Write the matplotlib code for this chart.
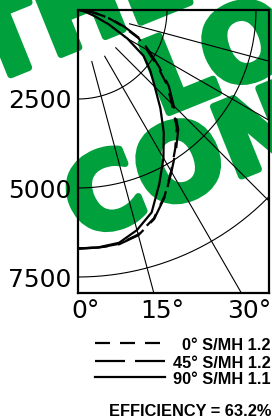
import numpy as np
import matplotlib
matplotlib.use('Agg')
import matplotlib.pyplot as plt
import matplotlib.transforms as mtransforms
import matplotlib.patheffects as pe
from matplotlib.lines import Line2D

# candela values, vertical angle 0..90 deg
ANGLES = [0, 5, 10, 15, 20, 25, 30, 35, 40, 45, 50, 55, 60, 65, 70, 75, 80, 85, 90]
CD_0 = [6700, 6700, 6670, 6530, 6230, 5760, 5230, 4760, 4320, 3730, 3260, 2710, 2230, 1880, 1340, 900, 470, 190, 0]
CD_45 = [6700, 6700, 6680, 6550, 6250, 5780, 5250, 4800, 4380, 3800, 3330, 2780, 2300, 1950, 1400, 950, 500, 200, 0]
CD_90 = [6700, 6690, 6640, 6400, 6050, 5400, 4800, 4200, 3600, 3050, 2650, 2250, 1600, 950, 480, 240, 110, 40, 0]

RINGS = [2500, 5000, 7500]
RING_LABELS = ['2500', '5000', '7500']
SPOKES = [15, 30, 45, 60, 75]
SPOKE_START = 1500
ANGLE_TICKS = [0, 15, 30]
ANGLE_LABELS = ['0°', '15°', '30°']
LEGEND_LABELS = ['0° S/MH 1.2', '45° S/MH 1.2', '90° S/MH 1.1']
EFFICIENCY = 63.2
WATERMARK = ['THE', 'LOW', 'CON']

W, H = 272, 418
CD_PER_PX = 2500 / 89.0
GREEN = '#00a03c'

plt.rcParams['lines.scale_dashes'] = False


def fx(px):
    return px / W


def fy(py):
    return 1 - py / H


def polar_xy(angles_deg, cd):
    t = np.radians(angles_deg)
    cd = np.asarray(cd, dtype=float)
    return cd * np.sin(t), cd * np.cos(t)


fig = plt.figure(figsize=(W / 100, H / 100), dpi=100)

# green watermark behind everything
for word, (bx, by) in zip(WATERMARK, [(92, 42), (282, 67), (197, 194)]):
    fig.text(fx(bx), fy(by), word, color=GREEN, fontsize=74, fontweight='bold',
             family='DejaVu Sans', rotation=22, rotation_mode='anchor',
             ha='center', va='baseline', zorder=-1,
             path_effects=[pe.withStroke(linewidth=5, foreground=GREEN)])

ax = fig.add_axes([fx(78), fy(293), 191 / W, 283 / H])
ax.set_facecolor('none')
ax.set_xlim(0, 191 * CD_PER_PX)
ax.set_ylim(283 * CD_PER_PX, 0)

# rings
t = np.linspace(0, 90, 200)
for r in RINGS:
    x, y = polar_xy(t, np.full_like(t, r))
    ax.plot(x, y, color='black', lw=0.8)

# spokes
for a in SPOKES:
    x, y = polar_xy([a, a], [SPOKE_START, 15000])
    ax.plot(x, y, color='black', lw=0.8)

# candela curves
x, y = polar_xy(ANGLES, CD_90)
ax.plot(x, y, color='black', lw=1.6, solid_capstyle='butt')
x, y = polar_xy(ANGLES, CD_45)
ax.plot(x, y, color='black', lw=1.6, linestyle=(0, (21.6, 7.2)))
x, y = polar_xy(ANGLES, CD_0)
ax.plot(x, y, color='black', lw=1.6, linestyle=(0, (10.8, 7.2)))

for s in ax.spines.values():
    s.set_linewidth(1.6)

ax.set_yticks(RINGS)
ax.set_yticklabels(RING_LABELS, family='DejaVu Sans', fontsize=18)
ax.set_xticks([])
ax.tick_params(axis='y', length=0, pad=4.5)

ymax = ax.get_ylim()[0]
lab_tr = mtransforms.offset_copy(ax.get_xaxis_transform(), fig=fig, x=8, y=-18, units='dots')
for a, lab in zip(ANGLE_TICKS, ANGLE_LABELS):
    ax.text(ymax * np.tan(np.radians(a)), 0, lab, transform=lab_tr, ha='center', va='center',
            family='DejaVu Sans', fontsize=18, clip_on=False)

# legend
styles = [(0, (10.8, 7.2)), (0, (21.6, 7.2)), '-']
line_y = [343, 361, 377]
text_y = [346, 363, 379]
for st, ly, ty, lab in zip(styles, line_y, text_y, LEGEND_LABELS):
    fig.add_artist(Line2D([fx(95), fx(165)], [fy(ly), fy(ly)], color='black', lw=1.6, linestyle=st))
    fig.text(fx(271), fy(ty), lab, ha='right', va='center', fontsize=11.8,
             fontweight='bold', family='Liberation Sans')

fig.text(fx(271), fy(411), 'EFFICIENCY = %.1f%%' % EFFICIENCY, ha='right', va='center',
         fontsize=11.8, fontweight='bold', family='Liberation Sans')

fig.savefig('out.png', dpi=100)
